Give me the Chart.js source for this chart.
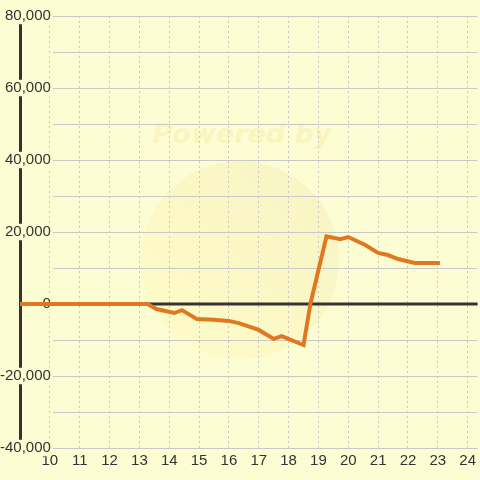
<!DOCTYPE html>
<html>
<head>
<meta charset="utf-8">
<script src="https://cdn.jsdelivr.net/npm/chart.js@4/dist/chart.umd.min.js"></script>
<style>
  body { margin: 0; background: #fdfdd4; }
  #wrap { width: 480px; height: 480px; }
</style>
</head>
<body>
<div id="wrap"><canvas id="chart" width="480" height="480"></canvas></div>
<script>
// hour of day vs value
const hours = [9, 13.27, 13.57, 14.17, 14.43, 14.93, 15.5, 16, 16.33, 17, 17.5, 17.77, 18.5, 18.73, 19.27, 19.73, 20, 20.57, 21, 21.33, 21.67, 22.23, 23.07];
const values = [0, 0, -1400, -2500, -1700, -4200, -4400, -4700, -5300, -7200, -9700, -8900, -11400, 0, 18800, 18000, 18600, 16400, 14200, 13600, 12500, 11400, 11400];

const xMin = 9, xMax = 24.333;
const yMin = -40000, yMax = 80000;
const yStep = 10000, yLabelStep = 20000;

const bg = '#fdfdd4';
const txt = '#333333';
const gridCol = '#c8c8c8';

let pts = []
for (let i = 0; i < hours.length; i++) {
  pts.push({ x: hours[i], y: values[i] })
}

const backPlugin = {
  id: 'back',
  beforeDraw(chart) {
    const { ctx, chartArea: a, scales } = chart;
    ctx.save();
    ctx.fillStyle = bg;
    ctx.fillRect(0, 0, chart.width, chart.height);
    // faint watermark
    let g = ctx.createLinearGradient(160, 340, 320, 170);
    g.addColorStop(0, 'rgba(255,242,150,0.2)');
    g.addColorStop(1, 'rgba(235,222,160,0.3)');
    ctx.fillStyle = g;
    ctx.beginPath();
    ctx.arc(240, 260, 99, 0, Math.PI * 2);
    ctx.fill();
    ctx.fillStyle = 'rgba(245,225,140,0.3)';
    ctx.font = 'italic bold 27px "DejaVu Sans"';
    ctx.textAlign = 'center';
    ctx.textBaseline = 'alphabetic';
    ctx.fillText('Powered by', 242, 143);
    // horizontal grid, starts right of the labels
    ctx.strokeStyle = gridCol;
    ctx.lineWidth = 1;
    scales.y.ticks.forEach(t => {
      let py = Math.round(scales.y.getPixelForValue(t.value)) + 0.5
      ctx.beginPath();
      ctx.moveTo(a.left + 33, py);
      ctx.lineTo(a.right, py);
      ctx.stroke();
    });
    ctx.restore();
  },
  beforeDatasetsDraw(chart) {
    const { ctx, chartArea: a, scales } = chart;
    let py = scales.y.getPixelForValue(0)
    ctx.save();
    ctx.strokeStyle = txt;
    ctx.lineWidth = 3;
    ctx.beginPath();
    ctx.moveTo(a.left, py);
    ctx.lineTo(a.right, py);
    ctx.stroke();
    ctx.restore();
  }
};

const chart = new Chart(document.getElementById('chart'), {
  type: 'line',
  data: {
    datasets: [{
      data: pts,
      borderColor: '#e07822',
      borderWidth: 4,
      pointRadius: 0,
      tension: 0,
      fill: false,
      clip: false
    }]
  },
  options: {
    responsive: false,
    animation: false,
    devicePixelRatio: 1,
    layout: { padding: { top: 16, left: 0, right: 0, bottom: 0 } },
    plugins: { legend: { display: false }, tooltip: { enabled: false } },
    scales: {
      x: {
        type: 'linear',
        min: xMin,
        max: xMax,
        afterFit: s => { s.height = 32 },
        ticks: {
          stepSize: 1,
          includeBounds: false,
          padding: 4,
          color: txt,
          font: { family: '"Liberation Sans", Arial, sans-serif', size: 15 },
          callback: v => v === xMin ? '' : v
        },
        grid: { color: gridCol, lineWidth: 1, drawTicks: false },
        border: { display: false, dash: [2, 3] }
      },
      y: {
        type: 'linear',
        min: yMin,
        max: yMax,
        afterFit: s => { s.width = 20 },
        ticks: {
          stepSize: yStep,
          mirror: true,
          crossAlign: 'far',
          padding: -20,
          color: txt,
          font: { family: '"Liberation Sans", Arial, sans-serif', size: 15, lineHeight: 1.1 },
          showLabelBackdrop: true,
          backdropColor: bg,
          backdropPadding: 0,
          callback: v => v % yLabelStep === 0 ? v.toLocaleString('en-US') : ''
        },
        grid: { display: false },
        border: { display: true, color: txt, width: 3 }
      }
    }
  },
  plugins: [backPlugin]
});
</script>
</body>
</html>
